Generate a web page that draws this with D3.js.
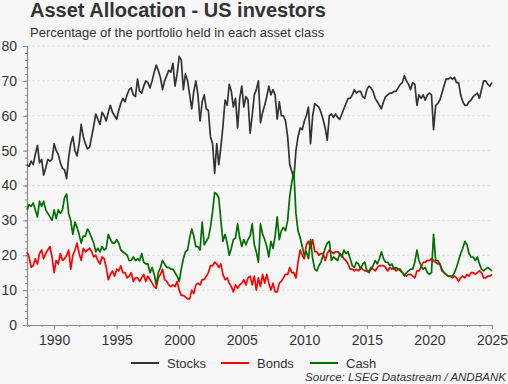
<!DOCTYPE html>
<html>
<head>
<meta charset="utf-8">
<script src="https://cdn.jsdelivr.net/npm/d3@7"></script>
<style>
	body { margin: 0; background: #f7f7f7; }
	svg { display: block; font-family: "Liberation Sans", Arial, sans-serif; }
</style>
</head>
<body>
<svg width="508" height="384"></svg>
<script>
var svg = d3.select("svg"),
	width = +svg.attr("width"),
	height = +svg.attr("height");

// AAII survey, one reading every two months from Nov 1987
var startMonth = new Date(1987, 10, 1);
var stepMonths = 2;

var seriesNames = ["Stocks", "Bonds", "Cash"];
var seriesColors = ["#333333", "#ff0000", "#006e00"];
var yearTicks = [1990, 1995, 2000, 2005, 2010, 2015, 2020, 2025];

var stocks = [
	46, 45.5, 47, 46, 49, 51.5, 46.5, 47.5, 43, 45,
	47.5, 47, 47.5, 52, 50, 49, 46.5, 45, 44.5, 42,
	48, 52, 54, 50, 48.5, 52, 57.5, 54, 52, 50.5,
	51, 54, 57, 60.5, 59, 57.5, 61, 60, 58.5, 61,
	63, 61, 60, 59, 61.5, 63.5, 65, 64, 66, 67.5,
	68, 66, 65.5, 70.5, 67, 66.5, 68.5, 70, 69.5, 68,
	70, 72.5, 74.5, 73, 71, 67.5, 70, 71.5,
	73, 72.5, 75, 68.5, 72, 77, 76, 67.5, 72, 70,
	66, 62, 67, 70, 66, 58.5, 64, 66, 62, 61.5,
	54, 52, 43.5, 52, 46, 51, 57, 64.5, 63, 69,
	67, 62.5, 65, 56.5, 65, 68.5, 62.5, 65.5, 64.5, 55,
	60, 66, 67.5, 70, 58, 61, 63, 65.5, 68.5, 66,
	67.5, 66, 59, 64, 60, 60, 58.5, 54, 46, 44,
	42, 50, 54, 56.5, 56, 58.5, 60, 62.5, 52, 60,
	63.5, 63, 62.5, 61, 59, 56.5, 53, 60, 60.5, 59.5, 60.5, 59.5,
	59, 60.5, 62, 63.5, 65, 65, 66, 67.5, 66.5, 67,
	67, 65.5, 65, 67.5, 68.5, 68, 67, 65, 64, 63,
	62, 64, 65.5, 66, 66.5, 66.5, 67, 67, 68, 69,
	69.5, 71.5, 70, 69, 67.5, 69.5, 69, 63, 66, 65,
	66, 64.5, 66, 66.5, 66, 56, 63, 63.5, 64.5, 66.5,
	68.5, 70.5, 70.5, 71, 70.5, 71, 69.5, 69.5, 66, 64,
	63, 63, 64, 64.5, 65.5, 66, 66.5, 65, 67.5, 70,
	70, 69, 68.5, 69.5
];

var bonds = [
	21, 19.5, 16.5, 17, 19, 17.5, 20.5, 21.5, 19, 20.5,
	21.5, 22.5, 19.5, 15, 18.5, 17.5, 20.5, 18.5, 19, 20,
	21.5, 16, 20, 21.5, 23.5, 20.5, 18.5, 22, 21, 21.5,
	22, 21, 19.5, 20, 18.5, 17.5, 19.5, 19, 16.5, 13,
	14.5, 15.5, 14, 16, 15.5, 17, 15, 15, 13.5, 14,
	15, 12.5, 13.5, 13.5, 12.5, 13.5, 14.5, 12.5, 14, 13,
	12, 11, 10.5, 13.5, 14.5, 16, 13, 12.5,
	11.5, 11, 11.5, 11, 12.5, 10, 8.5, 8.5, 8, 7.5,
	7.5, 10, 9, 11.5, 12, 11.5, 13, 13, 14, 15,
	17, 17, 18, 17.5, 16.5, 17.5, 14.5, 13, 13.5, 12,
	11, 9.5, 11.5, 10.5, 11.5, 12, 13, 11.5, 13.5, 14,
	11.5, 14, 10, 13.5, 11, 14.5, 12, 14.5, 12, 10,
	12, 9.5, 9.5, 12, 12.5, 13.5, 14.5, 14.5, 16.5, 15,
	15, 13.5, 18, 21.5, 20, 19, 23, 24, 22, 24.5,
	21, 21, 20, 20.5, 20.5, 18.5, 20.5, 21.5, 21, 20.5, 21, 21,
	20.5, 20, 19, 18.5, 17.5, 16, 16, 15.5, 16, 15.5,
	16.5, 16, 15.5, 15.5, 15.5, 16.5, 16, 15.5, 16.5, 17,
	17, 17, 16.5, 15.5, 16.5, 16, 16.5, 15.5, 16, 16,
	15, 14.5, 14, 14.5, 14.5, 14, 13.5, 15.5, 15.5, 16.5,
	18, 18, 18.5, 18.5, 19, 18.5, 18, 17.5, 17.5, 15.5,
	15, 14.5, 14, 14, 13.5, 14, 13.5, 12.5, 13.5, 14,
	13.5, 14.5, 14, 15, 15, 14.5, 15, 15.5, 15, 13.5,
	13.5, 14, 14, 14.5
];

var cash = [
	33, 34.5, 34, 35, 33, 31, 35.5, 34, 35.5, 33,
	32, 31, 30, 33, 30.5, 33, 32, 33, 36.5, 37.5,
	32, 30, 26, 29.5, 28, 26, 23.5, 25.5, 25.5, 27.5,
	26.5, 25, 23.5, 21, 22, 21, 22.5, 21.5, 22, 26,
	24.5, 23.5, 23.5, 24.5, 23.5, 21.5, 21, 20.5, 20, 18.5,
	18.5, 19.5, 18.5, 19, 18.5, 20.5, 18, 17.5, 17.5, 15,
	16.5, 14.5, 11.5, 15, 16.5, 18.5, 17.5, 16.5,
	16.5, 16, 16, 15, 14, 12.5, 16, 19, 21, 21.5,
	25, 27.5, 25.5, 22.5, 22.5, 21.5, 29.5, 23, 24, 25,
	28, 32.5, 38, 37.5, 36.5, 30, 24, 26, 23.5, 20,
	22, 24.5, 25, 29, 25, 22.5, 24.5, 23, 24.5, 25.5,
	29, 23, 21, 18, 29, 26, 24.5, 22.5, 19.5, 24,
	22, 25.5, 31, 24.5, 27, 28, 27, 30, 37, 41,
	44, 32, 27, 25, 22.5, 20, 21, 19, 24.5, 19,
	16, 15.5, 17, 18, 20, 22, 23.5, 24, 18.5, 19.5, 19, 18.5,
	20.5, 19.5, 21.5, 20.5, 21, 19, 17, 16.5, 18, 17.5,
	16, 17.5, 18, 15.5, 15, 16, 17, 18.5, 17.5, 19,
	21, 19, 18, 18, 17, 17.5, 16, 16.5, 16, 15.5,
	15, 14, 15, 15.5, 16, 16, 18, 21.5, 18.5, 17,
	16, 16.5, 15, 14.5, 15, 26, 18.5, 18.5, 17.5, 16,
	15, 14.5, 14, 14, 14, 15, 16.5, 18.5, 20.5, 22,
	24, 23, 20.5, 19.5, 19.5, 18.5, 19.5, 17.5, 16, 15.5,
	16, 16.5, 16, 15.5
];

var margin = {top: 46, right: 16, bottom: 59, left: 27};

var x = d3.scaleTime()
	.domain([startMonth, new Date(2025, 0, 1)])
	.range([margin.left, width - margin.right]);

var y = d3.scaleLinear()
	.domain([0, 80])
	.range([height - margin.bottom, margin.top]);

svg.append("rect")
	.attr("width", width)
	.attr("height", height)
	.style("fill", "#f7f7f7");

// titles
svg.append("text")
	.attr("x", 30)
	.attr("y", 17)
	.style("font-size", "20px")
	.style("font-weight", "bold")
	.style("fill", "#333")
	.text("Asset Allocation - US investors");

svg.append("text")
	.attr("x", 30)
	.attr("y", 37)
	.style("font-size", "13px")
	.style("fill", "#333")
	.text("Percentage of the portfolio held in each asset class");

// grid
svg.append("g")
	.selectAll("line")
	.data(d3.range(10, 81, 10))
	.enter().append("line")
	.attr("x1", margin.left)
	.attr("x2", width - margin.right)
	.attr("y1", function(d) { return y(d); })
	.attr("y2", function(d) { return y(d); })
	.style("stroke", "#dcdcdc")
	.style("stroke-dasharray", "3,2");

// y axis, minor then major ticks
var yMinor = svg.append("g")
	.attr("transform", "translate(" + margin.left + ",0)")
	.call(d3.axisLeft(y).tickValues(d3.range(0, 81, 2)).tickSize(2).tickFormat(""));

var yMajor = svg.append("g")
	.attr("transform", "translate(" + margin.left + ",0)")
	.call(d3.axisLeft(y).tickValues(d3.range(0, 81, 10)).tickSize(4).tickPadding(6));

// x axis
var xMinor = svg.append("g")
	.attr("transform", "translate(0," + (height - margin.bottom) + ")")
	.call(d3.axisBottom(x).ticks(d3.timeYear.every(1)).tickSize(2).tickFormat(""));

var xMajor = svg.append("g")
	.attr("transform", "translate(0," + (height - margin.bottom) + ")")
	.call(d3.axisBottom(x)
		.tickValues(yearTicks.map(function(d) { return new Date(d, 0, 1); }))
		.tickSize(4)
		.tickPadding(6)
		.tickFormat(d3.timeFormat("%Y")));

[yMinor, yMajor, xMinor, xMajor].forEach(function(g) {
	g.selectAll("path").style("stroke", "#8c8c8c").style("stroke-width", 1.2);
	g.selectAll("line").style("stroke", "#8c8c8c");
	g.selectAll("text")
		.style("font-size", "14px")
		.style("font-family", "'Liberation Sans', Arial, sans-serif")
		.style("fill", "#333");
});
yMajor.select(".domain").remove();
xMajor.select(".domain").remove();

// lines
var line = d3.line()
	.x(function(d, i) { return x(d3.timeMonth.offset(startMonth, i * stepMonths)); })
	.y(function(d) { return y(d); });

var allSeries = [stocks, bonds, cash];

svg.append("g")
	.selectAll("path")
	.data(allSeries)
	.enter().append("path")
	.attr("d", line)
	.style("fill", "none")
	.style("stroke", function(d, i) { return seriesColors[i]; })
	.style("stroke-width", 1.7)
	.style("stroke-linejoin", "round");

// legend
var legendX = [131, 221, 310];
var legend = svg.append("g")
	.selectAll("g")
	.data(seriesNames)
	.enter().append("g")
	.attr("transform", function(d, i) { return "translate(" + legendX[i] + ",363)"; });

legend.append("line")
	.attr("x1", 0)
	.attr("x2", 28)
	.style("stroke", function(d, i) { return seriesColors[i]; })
	.style("stroke-width", 2);

legend.append("text")
	.attr("x", 36)
	.attr("y", 5)
	.style("font-size", "13px")
	.style("fill", "#333")
	.text(function(d) { return d; });

svg.append("text")
	.attr("x", width - 2)
	.attr("y", 381)
	.attr("text-anchor", "end")
	.style("font-size", "11.5px")
	.style("font-style", "italic")
	.style("fill", "#333")
	.text("Source: LSEG Datastream / ANDBANK");
</script>
</body>
</html>
